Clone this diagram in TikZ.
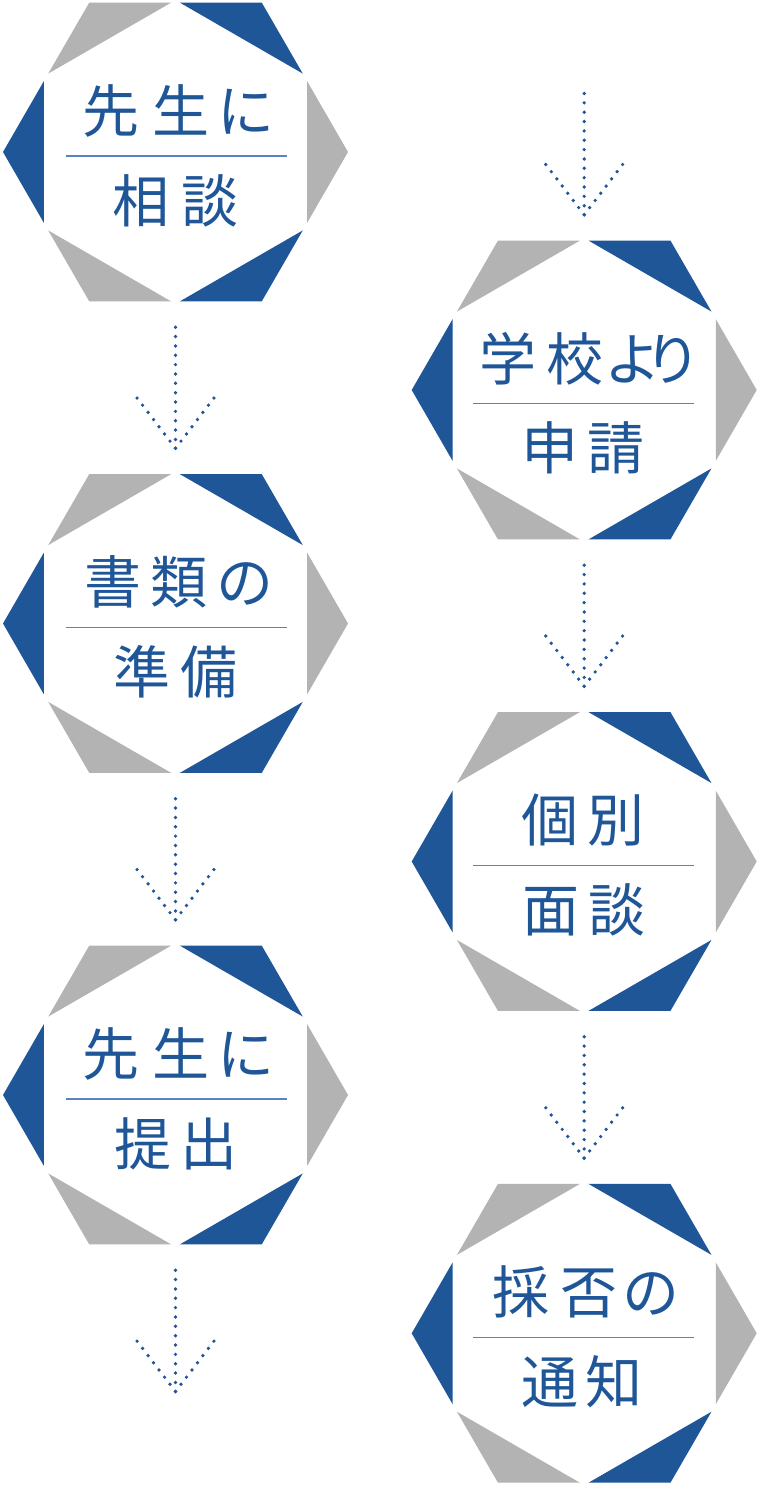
\documentclass[tikz,border=0pt]{standalone}
\usepackage{fontspec}
\newfontfamily\jpfont{Noto Sans CJK JP}
\usetikzlibrary{calc}
\definecolor{hexblue}{HTML}{1F5698}
\definecolor{hexgray}{HTML}{B3B3B3}
\definecolor{rulecol}{HTML}{5A83BD}
\tikzset{
  lab/.style={anchor=base, inner sep=0pt, text=hexblue, font=\jpfont\fontsize{57}{60}\selectfont},
  hexbox/.style={inner sep=0pt, minimum width=345pt, minimum height=300pt},
  dotline/.style={draw=hexblue, line width=3.7pt, line cap=round, dash pattern=on 0pt off 9.35pt},
  dotarm/.style={draw=hexblue, line width=3.7pt, line cap=round, dash pattern=on 0pt off 9.04pt},
  divider/.style={draw=rulecol, line width=1.2pt}
}
\newcommand\hexcorner[4]{\fill[#1] (#2) -- ($(#2)!0.95!(#3)$) -- ($(#2)!0.95!(#4)$) -- cycle;}
\newcommand\hexfig[3]{%
  \node[hexbox] (#1) at (#2,#3) {};
  \path (#2+172.5,#3) coordinate (#1v0) (#2+86.25,#3-149.4) coordinate (#1v1)
        (#2-86.25,#3-149.4) coordinate (#1v2) (#2-172.5,#3) coordinate (#1v3)
        (#2-86.25,#3+149.4) coordinate (#1v4) (#2+86.25,#3+149.4) coordinate (#1v5);
  \path (#2+129.4,#3-74.7) coordinate (#1m01) (#2,#3-149.4) coordinate (#1m12)
        (#2-129.4,#3-74.7) coordinate (#1m23) (#2-129.4,#3+74.7) coordinate (#1m34)
        (#2,#3+149.4) coordinate (#1m45) (#2+129.4,#3+74.7) coordinate (#1m50);
  \hexcorner{hexgray}{#1v0}{#1m01}{#1m50}
  \hexcorner{hexblue}{#1v1}{#1m12}{#1m01}
  \hexcorner{hexgray}{#1v2}{#1m23}{#1m12}
  \hexcorner{hexblue}{#1v3}{#1m34}{#1m23}
  \hexcorner{hexgray}{#1v4}{#1m45}{#1m34}
  \hexcorner{hexblue}{#1v5}{#1m50}{#1m45}
}
\newcommand\dotarrow[2]{%
  \draw[dotline] (#1) -- (#2);
  \draw[dotarm] (#2) -- ++(-38.4,-50.3);
  \draw[dotarm] (#2) -- ++(38.4,-50.3);
}
\begin{document}
\begin{tikzpicture}[x=1pt,y=-1pt]
\useasboundingbox (0,0) rectangle (760,1486);
\fill[white] (0,0) rectangle (760,1486);

% column 1
\hexfig{h1}{175.5}{152}
\hexfig{h2}{175.5}{623.5}
\hexfig{h3}{175.5}{1095}
% column 2
\hexfig{h4}{584.2}{390}
\hexfig{h5}{584.2}{861.5}
\hexfig{h6}{584.2}{1333.3}

% dividers
\draw[divider] (175.5-110,156) -- (175.5+111,156);
\draw[divider] (175.5-110,627.5) -- (175.5+111,627.5);
\draw[divider] (175.5-110,1099) -- (175.5+111,1099);
\draw[divider] (584.2-111,403.3) -- (584.2+110,403.3);
\draw[divider] (584.2-111,865.5) -- (584.2+110,865.5);
\draw[divider] (584.2-111,1337.3) -- (584.2+110,1337.3);

% texts
\node[lab] (t1a) at (178.5,132) {先\kern13pt 生\kern8pt に};
\node[lab] (t1b) at (175.5,222) {相\kern12pt 談};
\node[lab] (t2a) at (179,603.5) {書\kern9pt 類\kern9pt の};
\node[lab] (t2b) at (175.5,693.5) {準\kern11pt 備};
\node[lab] (t3a) at (178.5,1075) {先\kern13pt 生\kern8pt に};
\node[lab] (t3b) at (176,1165) {提\kern9pt 出};
\node[lab] (t4a) at (590.5,380) {学\kern10pt 校\kern1pt よ\kern-17pt り};
\node[lab] (t4b) at (583,469) {申\kern9pt 請};
\node[lab] (t5a) at (583,841.5) {個\kern9pt 別};
\node[lab] (t5b) at (584,931.5) {面\kern10pt 談};
\node[lab] (t6a) at (586,1313.3) {採\kern12pt 否\kern5pt の};
\node[lab] (t6b) at (582,1403.3) {通\kern8pt 知};

% arrows
\coordinate (a1s) at ($(h1.south)+(0,25)$);
\coordinate (a1e) at ($(h2.north)+(0,-25)$);
\coordinate (a2s) at ($(h2.south)+(0,25)$);
\coordinate (a2e) at ($(h3.north)+(0,-25)$);
\coordinate (a3s) at ($(h3.south)+(0,25)$);
\coordinate (a3e) at (175.5,1391.5);
\coordinate (b0s) at (584.2,93.5);
\coordinate (b0e) at ($(h4.north)+(0,-25)$);
\coordinate (b1s) at ($(h4.south)+(0,25)$);
\coordinate (b1e) at ($(h5.north)+(0,-25)$);
\coordinate (b2s) at ($(h5.south)+(0,25)$);
\coordinate (b2e) at ($(h6.north)+(0,-25)$);
\dotarrow{a1s}{a1e}
\dotarrow{a2s}{a2e}
\dotarrow{a3s}{a3e}
\dotarrow{b0s}{b0e}
\dotarrow{b1s}{b1e}
\dotarrow{b2s}{b2e}
\end{tikzpicture}
\end{document}
